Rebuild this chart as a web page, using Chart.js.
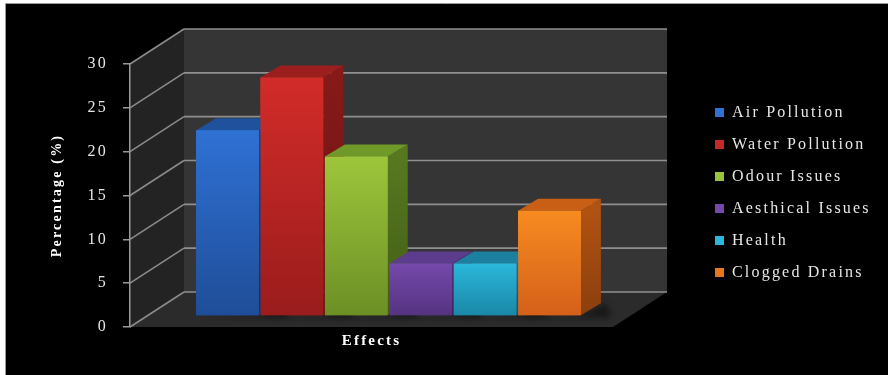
<!DOCTYPE html>
<html>
<head>
<meta charset="utf-8">
<title>Effects</title>
<style>
  html, body { margin: 0; padding: 0; background: #ffffff; }
  canvas { display: block; }
</style>
<script src="https://cdn.jsdelivr.net/npm/chart.js@4.4.1/dist/chart.umd.min.js"></script>
</head>
<body>
<canvas id="chart" width="888" height="375"></canvas>
<script>
// ---- data ----
const categories = ['Effects'];
const seriesNames = ['Air Pollution', 'Water Pollution', 'Odour Issues', 'Aesthical Issues', 'Health', 'Clogged Drains'];
const seriesValues = [21.2, 27.2, 18.2, 6.0, 6.0, 12.0];
const yTicks = [0, 5, 10, 15, 20, 25, 30];

// ---- styling: [front light, front dark, top face, side light, side dark] ----
const faceColors = [
  ['#2f71d4', '#1f4d98', '#1f519d', '#1c4283', '#15326a'],
  ['#d22c29', '#9a1c1c', '#9c1f1e', '#861a18', '#681312'],
  ['#9dc63b', '#6c8f25', '#6f9a29', '#57781f', '#435d17'],
  ['#7449ab', '#553380', '#5c3c8d', '#4d3176', '#3b255c'],
  ['#2bb7db', '#1a87a6', '#1c80a0', '#17708e', '#105670'],
  ['#f78b20', '#d4601a', '#c95f14', '#b05212', '#8a3f0d']
];

// oblique projection offsets (pixels)
const WALL_DEPTH = { x: 54, y: -35 };   // front axis plane -> back wall
const BAR_SHIFT  = { x: 17, y: -11 };   // front axis plane -> bar front faces
const BAR_DEPTH  = { x: 20, y: -12 };   // bar front face -> bar back face
const LEGEND_GAP = 86;

function barGradient(context) {
  const i = context.datasetIndex;
  const c = faceColors[i];
  if (context.type !== 'data') return c[0];
  const chart = context.chart;
  if (!chart.chartArea || !chart.scales.y) return c[0];
  const ys = chart.scales.y;
  const top = ys.getPixelForValue(context.raw);
  const bot = ys.getPixelForValue(0);
  const g = chart.ctx.createLinearGradient(0, top, 0, bot);
  g.addColorStop(0, c[0]);
  g.addColorStop(1, c[1]);
  return g;
}

const scene3d = {
  id: 'scene3d',
  beforeInit(chart) {
    const lg = chart.legend;
    if (lg && !lg._gapPatched) {
      const fit = lg.fit;
      lg.fit = function () {
        fit.call(this);
        this.width = 275;
      };
      lg._gapPatched = true;
    }
  },
  afterLayout(chart) {
    const lg = chart.legend;
    if (!lg) return;
    lg.left = chart.chartArea.right + LEGEND_GAP;
    lg.right = chart.width;
    lg.top = chart.chartArea.top - 3;
    lg.bottom = chart.chartArea.bottom - 3;
    lg.width = lg.right - lg.left;
    lg.height = lg.bottom - lg.top;
  },
  beforeDraw(chart) {
    const ctx = chart.ctx;
    const { left, right } = chart.chartArea;
    const ys = chart.scales.y;
    const y0 = ys.getPixelForValue(yTicks[0]);
    const yTop = ys.getPixelForValue(yTicks[yTicks.length - 1]);
    const bx = left + WALL_DEPTH.x;
    const bxr = right + WALL_DEPTH.x;
    const dy = WALL_DEPTH.y;

    ctx.save();
    // page and black panel
    ctx.fillStyle = '#ffffff';
    ctx.fillRect(0, 0, chart.width, chart.height);
    ctx.fillStyle = '#000000';
    ctx.fillRect(6, 4, chart.width - 6, chart.height - 4);
    ctx.strokeStyle = '#9a9a9a';
    ctx.lineWidth = 1;
    ctx.beginPath();
    ctx.moveTo(5.5, chart.height);
    ctx.lineTo(5.5, 3.5);
    ctx.lineTo(chart.width, 3.5);
    ctx.stroke();

    // back wall
    ctx.fillStyle = '#353535';
    ctx.beginPath();
    ctx.moveTo(bx, yTop + dy);
    ctx.lineTo(bxr, yTop + dy);
    ctx.lineTo(bxr, y0 + dy);
    ctx.lineTo(bx, y0 + dy);
    ctx.closePath();
    ctx.fill();

    // side wall
    ctx.fillStyle = '#232323';
    ctx.beginPath();
    ctx.moveTo(left, yTop);
    ctx.lineTo(bx, yTop + dy);
    ctx.lineTo(bx, y0 + dy);
    ctx.lineTo(left, y0);
    ctx.closePath();
    ctx.fill();

    // floor
    ctx.fillStyle = '#2b2b2b';
    ctx.beginPath();
    ctx.moveTo(left, y0);
    ctx.lineTo(right, y0);
    ctx.lineTo(bxr, y0 + dy);
    ctx.lineTo(bx, y0 + dy);
    ctx.closePath();
    ctx.fill();

    // gridlines: diagonal on side wall, horizontal on back wall
    ctx.lineWidth = 1.6;
    for (const v of yTicks) {
      const py = ys.getPixelForValue(v);
      ctx.strokeStyle = '#8a8a8a';
      ctx.beginPath();
      ctx.moveTo(left, py);
      ctx.lineTo(bx, py + dy);
      ctx.stroke();
      ctx.strokeStyle = '#8f8f8f';
      ctx.beginPath();
      ctx.moveTo(bx, py + dy);
      ctx.lineTo(bxr, py + dy);
      ctx.stroke();
    }
    ctx.restore();
    ctx.letterSpacing = '2.2px';
  },
  beforeDatasetsDraw(chart) {
    chart.ctx.save();
    chart.ctx.translate(BAR_SHIFT.x, BAR_SHIFT.y);
  },
  afterDatasetsDraw(chart) {
    const ctx = chart.ctx;
    const n = chart.data.datasets.length;
    // paint left to right so each bar hides the side of its left neighbour
    for (let i = 0; i < n; i++) {
      const meta = chart.getDatasetMeta(i);
      const el = meta.data[0];
      if (!el) continue;
      const { x, y, base, width } = el.getProps(['x', 'y', 'base', 'width'], true);
      const l = x - width / 2;
      const r = x + width / 2;
      const c = faceColors[i];

      // soft floor shadow
      ctx.save();
      ctx.fillStyle = 'rgba(0,0,0,0.45)';
      ctx.filter = 'blur(3px)';
      ctx.beginPath();
      ctx.moveTo(r, base);
      ctx.lineTo(r + BAR_DEPTH.x + 6, base + BAR_DEPTH.y);
      ctx.lineTo(r + BAR_DEPTH.x + 10, base + 2);
      ctx.lineTo(l + 4, base + 3);
      ctx.closePath();
      ctx.fill();
      ctx.restore();

      // side face
      const sg = ctx.createLinearGradient(0, y, 0, base);
      sg.addColorStop(0, c[3]);
      sg.addColorStop(1, c[4]);
      ctx.fillStyle = sg;
      ctx.beginPath();
      ctx.moveTo(r, y);
      ctx.lineTo(r + BAR_DEPTH.x, y + BAR_DEPTH.y);
      ctx.lineTo(r + BAR_DEPTH.x, base + BAR_DEPTH.y);
      ctx.lineTo(r, base);
      ctx.closePath();
      ctx.fill();

      // top face
      ctx.fillStyle = c[2];
      ctx.beginPath();
      ctx.moveTo(l, y);
      ctx.lineTo(r, y);
      ctx.lineTo(r + BAR_DEPTH.x, y + BAR_DEPTH.y);
      ctx.lineTo(l + BAR_DEPTH.x, y + BAR_DEPTH.y);
      ctx.closePath();
      ctx.fill();

      // front face, drawn by the bar element itself
      el.draw(ctx, chart.chartArea);
    }
    ctx.restore();
  }
};

const datasets = seriesNames.map((name, i) => ({
  label: name,
  data: [seriesValues[i]],
  backgroundColor: barGradient,
  borderWidth: 0,
  clip: false
}));

new Chart(document.getElementById('chart'), {
  type: 'bar',
  data: { labels: categories, datasets },
  options: {
    responsive: false,
    devicePixelRatio: 1,
    animation: false,
    events: [],
    categoryPercentage: 0.8,
    barPercentage: 0.975,
    layout: { padding: { top: 64, left: 0, right: 0, bottom: 0 } },
    plugins: {
      tooltip: { enabled: false },
      legend: {
        position: 'right',
        fullSize: false,
        labels: {
          boxWidth: 9,
          boxHeight: 9,
          padding: 16,
          color: '#e6e6e6',
          font: { family: 'Liberation Serif', size: 16 }
        }
      }
    },
    scales: {
      x: {
        ticks: { display: false },
        grid: { display: false },
        border: { display: false },
        title: {
          display: true,
          text: 'Effects',
          color: '#ffffff',
          font: { family: 'Liberation Serif', size: 15, weight: 'bold' },
          padding: { top: 0, bottom: 25 }
        },
        afterFit(scale) { scale.height = 48; }
      },
      y: {
        min: yTicks[0],
        max: yTicks[yTicks.length - 1],
        ticks: {
          stepSize: yTicks[1] - yTicks[0],
          color: '#e6e6e6',
          padding: 15,
          font: { family: 'Liberation Serif', size: 16 }
        },
        grid: { drawOnChartArea: false, drawTicks: true, tickLength: 7, color: '#9a9a9a', lineWidth: 1.5 },
        border: { display: true, color: '#9a9a9a', width: 1.5 },
        title: {
          display: true,
          text: 'Percentage (%)',
          color: '#ffffff',
          font: { family: 'Liberation Serif', size: 14, weight: 'bold' },
          padding: { top: 49, bottom: 0 }
        },
        afterFit(scale) { scale.width = 130; }
      }
    }
  },
  plugins: [scene3d]
});
</script>
</body>
</html>
